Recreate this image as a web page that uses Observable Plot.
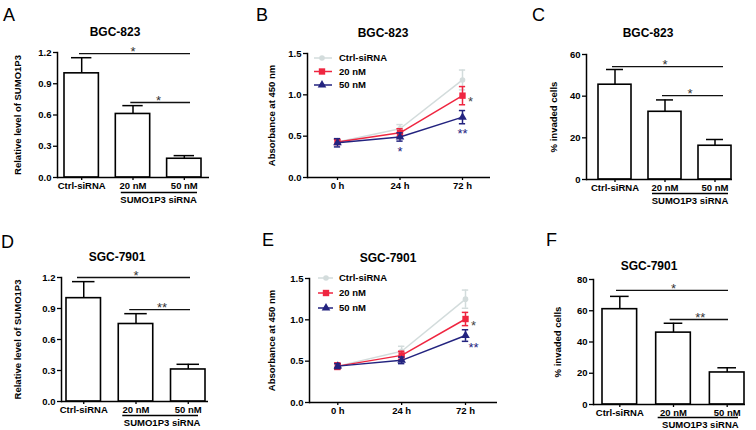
<!DOCTYPE html>
<html><head><meta charset="utf-8">
<script src="https://cdn.jsdelivr.net/npm/d3@7"></script>
<script src="https://cdn.jsdelivr.net/npm/@observablehq/plot@0.6"></script>
<style>
body{margin:0;background:#fff;}
#fig{position:relative;width:756px;height:430px;overflow:hidden;font-family:"Liberation Sans",Arial,Helvetica,sans-serif;color:#000;background:#fff;}
.letter{position:absolute;font-size:18px;line-height:18px;font-weight:normal;}
.title{position:absolute;font-size:12px;font-weight:bold;transform:translate(-50%,-50%);white-space:nowrap;}
</style></head><body><div id="fig"></div>
<script>
// ---------- data ----------
const barCategories = ["Ctrl-siRNA", "20 nM", "50 nM"];
const groupLabel = "SUMO1P3 siRNA";
const relBGC = [1.00, 0.61, 0.18];
const relBGCErr = [0.15, 0.08, 0.03];
const relSGC = [1.00, 0.75, 0.31];
const relSGCErr = [0.16, 0.10, 0.05];
const invBGC = [45.5, 32.5, 16.2];
const invBGCErr = [7.3, 5.7, 3.0];
const invSGC = [61.0, 46.0, 20.5];
const invSGCErr = [8.2, 6.0, 3.0];

const timeLabels = ["0 h", "24 h", "72 h"];
const seriesNames = ["Ctrl-siRNA", "20 nM", "50 nM"];
const absBGCctrl = [0.43, 0.59, 1.18];
const absBGCctrlErr = [0.03, 0.05, 0.12];
const absBGC20 = [0.43, 0.54, 0.99];
const absBGC20Err = [0.03, 0.05, 0.11];
const absBGC50 = [0.42, 0.49, 0.73];
const absBGC50Err = [0.05, 0.05, 0.08];
const absSGCctrl = [0.44, 0.62, 1.25];
const absSGCctrlErr = [0.03, 0.06, 0.11];
const absSGC20 = [0.44, 0.57, 1.01];
const absSGC20Err = [0.04, 0.05, 0.08];
const absSGC50 = [0.44, 0.51, 0.81];
const absSGC50Err = [0.03, 0.04, 0.07];

const relTicks = [0, 0.3, 0.6, 0.9, 1.2];
const absTicks = [0, 0.5, 1.0, 1.5];
const invBGCTicks = [0, 20, 40, 60];
const invSGCTicks = [0, 20, 40, 60, 80];

const sigRelBGC = [{from: "Ctrl-siRNA", to: "50 nM", y: 1.19, label: "*"}, {from: "20 nM", to: "50 nM", y: 0.72, label: "*"}];
const sigRelSGC = [{from: "Ctrl-siRNA", to: "50 nM", y: 1.2, label: "*"}, {from: "20 nM", to: "50 nM", y: 0.89, label: "**"}];
const sigInvBGC = [{from: "Ctrl-siRNA", to: "50 nM", y: 54.2, label: "*"}, {from: "20 nM", to: "50 nM", y: 40.3, label: "*"}];
const sigInvSGC = [{from: "Ctrl-siRNA", to: "50 nM", y: 73, label: "*"}, {from: "20 nM", to: "50 nM", y: 54.4, label: "**"}];

const starsAbsBGC = [{t: "24 h", v: 0.35, label: "*", series: "50 nM", side: "center"}, {t: "72 h", v: 0.95, label: "*", series: "20 nM", side: "right"}, {t: "72 h", v: 0.57, label: "**", series: "50 nM", side: "center"}];
const starsAbsSGC = [{t: "72 h", v: 0.96, label: "*", series: "20 nM", side: "right"}, {t: "72 h", v: 0.70, label: "**", series: "50 nM", side: "right"}];

// ---------- styles ----------
const FONT = '"Liberation Sans", Arial, Helvetica, sans-serif';
const seriesColors = ["#d3dcdc", "#ef2640", "#23237f"];
const seriesSymbols = ["circle", "square", "triangle"];
const seriesR = [2.8, 3.6, 3.2];
const fig = document.getElementById("fig");

function place(node, left, top) {
  node.style.position = "absolute";
  node.style.left = left + "px";
  node.style.top = top + "px";
  fig.appendChild(node);
}
function addText(cls, txt, x, y) {
  const d = document.createElement("div");
  d.className = cls; d.textContent = txt;
  d.style.left = x + "px"; d.style.top = y + "px";
  fig.appendChild(d);
}
const baseStyle = {fontFamily: FONT, fontSize: "9.5px", fontWeight: "bold", color: "#000", background: "transparent", overflow: "visible"};

function barPanel(p) {
  const rows = barCategories.map((c, i) => ({cat: c, v: p.values[i], hi: p.values[i] + p.errors[i]}));
  const step = (p.xr[1] - p.xr[0]) / (barCategories.length - p.pi);
  const idx = c => barCategories.indexOf(c);
  const sigMarks = p.sig.flatMap(s => [
    Plot.ruleY([s], {x1: "from", x2: "to", y: "y", insetLeft: p.sigIn[0], insetRight: p.sigIn[1], stroke: "#111", strokeWidth: 1.3}),
    Plot.text([s], {x: "from", y: "y", text: "label", dx: (idx(s.to) - idx(s.from)) * step / 2, dy: -1.5, fontSize: 13, fontWeight: "normal", fill: "#333", lineAnchor: "middle"})
  ]);
  const chart = Plot.plot({
    width: p.w, height: p.h,
    marginLeft: p.m[0], marginRight: p.m[1], marginTop: p.m[2], marginBottom: p.m[3],
    style: baseStyle,
    x: {type: "band", domain: barCategories, range: p.xr, paddingInner: p.pi, paddingOuter: 0, round: false},
    y: {domain: [0, p.yMax]},
    marks: [
      Plot.ruleX(rows, {x: "cat", y1: "v", y2: "hi", stroke: "#000", strokeWidth: 1.5}),
      Plot.ruleY(rows, {x1: "cat", x2: "cat", y: "hi", insetLeft: p.cap, insetRight: p.cap, stroke: "#000", strokeWidth: 1.5}),
      Plot.barY(rows, {x: "cat", y: "v", fill: "white", stroke: "#000", strokeWidth: 1.6}),
      Plot.ruleY([0], {stroke: "#000", strokeWidth: 1.5}),
      Plot.frame({anchor: "left", stroke: "#000", strokeWidth: 1.5}),
      Plot.axisY({ticks: p.yTicks, tickFormat: p.fmt, tickSize: 4, tickPadding: 2, label: null, strokeWidth: 1.3}),
      Plot.axisX({tickSize: 3, tickPadding: 2, label: null, strokeWidth: 1.3}),
      ...sigMarks,
      Plot.ruleY([{a: barCategories[1], b: barCategories[2]}], {x1: "a", x2: "b", y: () => 0, dy: p.gRule, insetLeft: p.gIn[0], insetRight: p.gIn[1], stroke: "#000", strokeWidth: 1.3}),
      Plot.text([{cat: barCategories[1], label: groupLabel}], {x: "cat", y: () => 0, text: "label", dx: step / 2, dy: p.gText, lineAnchor: "middle"}),
      Plot.text([p.ylabel], {text: d => d, frameAnchor: "left", textAnchor: "middle", rotate: -90, dx: p.yDx, lineAnchor: "middle"})
    ]
  });
  place(chart, p.left, p.top);
}

function linePanel(p) {
  const step = p.step;
  const bw = step * 0.1;
  const xr = [p.c0 - bw / 2, p.c0 + 2 * step + bw / 2];
  const marks = [];
  p.series.forEach((s, si) => {
    const rows = timeLabels.map((t, ti) => ({t, v: s[0][ti], lo: s[0][ti] - s[1][ti], hi: s[0][ti] + s[1][ti]}));
    const col = seriesColors[si];
    marks.push(
      Plot.ruleX(rows, {x: "t", y1: "lo", y2: "hi", stroke: col, strokeWidth: 1.5}),
      Plot.ruleY(rows, {x1: "t", x2: "t", y: "hi", stroke: col, strokeWidth: 1.5}),
      Plot.ruleY(rows, {x1: "t", x2: "t", y: "lo", stroke: col, strokeWidth: 1.5}),
      Plot.line(rows, {x: "t", y: "v", stroke: col, strokeWidth: 1.5}),
      Plot.dot(rows, {x: "t", y: "v", symbol: () => seriesSymbols[si], fill: col, stroke: "none", r: seriesR[si]})
    );
  });
  p.stars.forEach(st => {
    marks.push(Plot.text([st], {x: "t", y: "v", text: "label", dx: st.side === "right" ? 8 : 0, dy: 3, fontSize: 13, fontWeight: "normal", lineAnchor: "middle",
      fill: st.series === "50 nM" ? seriesColors[2] : "#444"}));
  });
  const chart = Plot.plot({
    width: p.w, height: p.h,
    marginLeft: p.m[0], marginRight: p.m[1], marginTop: p.m[2], marginBottom: p.m[3],
    style: baseStyle,
    x: {type: "band", domain: timeLabels, range: xr, paddingInner: 0.9, paddingOuter: 0, round: false},
    y: {domain: [0, 1.5]},
    marks: [
      Plot.ruleY([0], {stroke: "#000", strokeWidth: 1.5}),
      Plot.frame({anchor: "left", stroke: "#000", strokeWidth: 1.5}),
      Plot.axisY({ticks: absTicks, tickFormat: d3.format(".1f"), tickSize: 4, tickPadding: 2, label: null, strokeWidth: 1.3}),
      Plot.axisX({tickSize: 3, tickPadding: 2, label: null, strokeWidth: 1.3}),
      ...marks,
      Plot.text([p.ylabel], {text: d => d, frameAnchor: "left", textAnchor: "middle", rotate: -90, dx: p.yDx, lineAnchor: "middle"})
    ]
  });
  place(chart, p.left, p.top);
}

// ---------- panels ----------
barPanel({left: 0, top: 0, w: 250, h: 215, m: [57, 41, 52, 38], xr: [64, 201], pi: 0.33, yMax: 1.2,
  values: relBGC, errors: relBGCErr, yTicks: relTicks, fmt: d3.format(".1f"), cap: 7,
  sig: sigRelBGC, sigIn: [15, 11], gRule: 15, gIn: [5.5, 4], gText: 22, ylabel: "Relative level of SUMO1P3", yDx: -40});
barPanel({left: 0, top: 215, w: 250, h: 215, m: [61, 42, 62, 29], xr: [66, 205], pi: 0.34, yMax: 1.2,
  values: relSGC, errors: relSGCErr, yTicks: relTicks, fmt: d3.format(".1f"), cap: 6,
  sig: sigRelSGC, sigIn: [11, 15], gRule: 14, gIn: [4, 7], gText: 21, ylabel: "Relative level of SUMO1P3", yDx: -44});
barPanel({left: 500, top: 0, w: 256, h: 215, m: [86, 24, 54, 36], xr: [98, 231], pi: 0.34, yMax: 60,
  values: invBGC, errors: invBGCErr, yTicks: invBGCTicks, fmt: d3.format("d"), cap: 8,
  sig: sigInvBGC, sigIn: [14, 8], gRule: 14, gIn: [4, 3], gText: 21, ylabel: "% invaded cells", yDx: -33});
barPanel({left: 500, top: 215, w: 256, h: 215, m: [93, 11, 64, 26], xr: [102, 244], pi: 0.355, yMax: 80,
  values: invSGC, errors: invSGCErr, yTicks: invSGCTicks, fmt: d3.format("d"), cap: 8,
  sig: sigInvSGC, sigIn: [14, 16], gRule: 13, gIn: [2, 6], gText: 20, ylabel: "% invaded cells", yDx: -36});

linePanel({left: 250, top: 0, w: 250, h: 215, m: [57, 10, 53, 38], c0: 87, step: 62.5,
  series: [[absBGCctrl, absBGCctrlErr], [absBGC20, absBGC20Err], [absBGC50, absBGC50Err]],
  stars: starsAbsBGC, ylabel: "Absorbance at 450 nm", yDx: -36});
linePanel({left: 250, top: 215, w: 250, h: 215, m: [59, 3, 63, 28], c0: 87.3, step: 63.85,
  series: [[absSGCctrl, absSGCctrlErr], [absSGC20, absSGC20Err], [absSGC50, absSGC50Err]],
  stars: starsAbsSGC, ylabel: "Absorbance at 450 nm", yDx: -38});

// ---------- legends ----------
const ov = d3.create("svg").attr("width", 756).attr("height", 430)
  .style("position", "absolute").style("left", "0px").style("top", "0px")
  .style("font-family", FONT).style("font-size", "9.5px").style("font-weight", "bold");
const symMap = {circle: d3.symbolCircle, square: d3.symbolSquare, triangle: d3.symbolTriangle};
function legend(x0, x1, xm, xt, ys) {
  seriesNames.forEach((name, i) => {
    const g = ov.append("g");
    g.append("line").attr("x1", x0).attr("x2", x1).attr("y1", ys[i]).attr("y2", ys[i])
      .attr("stroke", seriesColors[i]).attr("stroke-width", 1.5);
    g.append("path").attr("d", d3.symbol(symMap[seriesSymbols[i]], Math.PI * seriesR[i] * seriesR[i])())
      .attr("transform", `translate(${xm},${ys[i]})`).attr("fill", seriesColors[i]);
    g.append("text").attr("x", xt).attr("y", ys[i]).attr("dy", "0.35em").text(name);
  });
}
legend(314, 332, 322, 339, [58, 71.5, 85]);
legend(318, 333, 326, 339, [278, 293, 308]);
fig.appendChild(ov.node());

// ---------- titles & letters ----------
addText("title", "BGC-823", 115, 32);
addText("title", "BGC-823", 383, 33);
addText("title", "BGC-823", 648, 33);
addText("title", "SGC-7901", 117, 257);
addText("title", "SGC-7901", 388, 258);
addText("title", "SGC-7901", 649, 266);
addText("letter", "A", 3, 6);
addText("letter", "B", 256, 6);
addText("letter", "C", 532, 6);
addText("letter", "D", 1, 233);
addText("letter", "E", 262, 231);
addText("letter", "F", 546, 231);
</script></body></html>
